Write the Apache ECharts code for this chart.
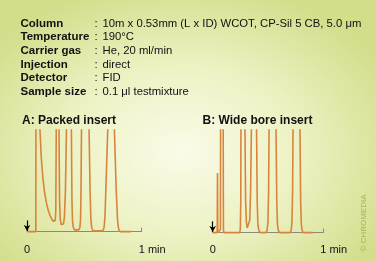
<!DOCTYPE html>
<html><head><meta charset="utf-8">
<script src="https://cdn.jsdelivr.net/npm/echarts@6/dist/echarts.min.js"></script>
<style>
html,body{margin:0;padding:0;}
#c{width:376px;height:261px;background:radial-gradient(ellipse 68% 72% at 48% 58%, #fafbe8 0%, #edf2c4 45%, #d3dd8a 92%);}
</style></head>
<body><div id="c"></div>
<script>
// Header table
const infoLabels = ['Column', 'Temperature', 'Carrier gas', 'Injection', 'Detector', 'Sample size'];
const infoValues = ['10m x 0.53mm (L x ID) WCOT, CP-Sil 5 CB, 5.0 \u03bcm', '190\u00b0C', 'He, 20 ml/min', 'direct', 'FID', '0.1 \u03bcl testmixture'];
const panelTitles = ['A: Packed insert', 'B: Wide bore insert'];
const tickLabels = ['0', '1 min'];
// Panel A chromatogram (time in min, signal in % of clipped full scale)
const timeA = [0.003,0.075,0.077,0.0785,0.100,0.113,0.125,0.139,0.154,0.170,0.185,0.200,0.215,0.228,0.238,0.246,0.251,0.255,0.256,0.278,0.279,0.284,0.290,0.298,0.308,0.318,0.326,0.335,0.344,0.347,0.385,0.387,0.392,0.397,0.404,0.415,0.450,0.461,0.467,0.471,0.475,0.476,0.540,0.541,0.550,0.557,0.564,0.575,0.660,0.672,0.680,0.690,0.704,0.706,0.760,0.762,0.778,0.790,0.800,0.812,0.907];
const signalA = [0,0,2,150,150,100,72,52,38,28,21,16,12.5,10.2,9.5,11,20,100,150,150,100,30,12,7,5.6,7.5,14,40,100,150,150,100,30,10,4,1.7,1.7,4,12,40,100,150,150,100,40,12,4,0.7,0.7,4,15,50,100,150,150,100,40,10,2,0,0];
// Panel B chromatogram
const timeB = [0,0.038,0.041,0.0435,0.046,0.049,0.066,0.070,0.072,0.094,0.097,0.101,0.245,0.250,0.254,0.257,0.290,0.292,0.298,0.305,0.312,0.319,0.327,0.335,0.343,0.350,0.352,0.395,0.397,0.403,0.409,0.418,0.430,0.480,0.492,0.500,0.506,0.510,0.512,0.570,0.573,0.580,0.586,0.594,0.606,0.700,0.710,0.717,0.723,0.727,0.729,0.788,0.790,0.796,0.802,0.810,0.820,0.907];
const signalB = [0,0,2,58,2,0,0,3,150,150,3,0,0,4,30,150,150,100,30,10,4.5,3,5,12,40,100,150,150,100,30,8,2,0,0,2,10,40,100,150,150,100,30,8,2,0,0,2,10,40,100,150,150,100,30,8,2,0,0];
// Injection arrow (from, to) in signal units
const arrowSignal = [11, 0.6];

const zip = (t, s) => t.map((v, i) => [v, s[i]]);
const TRACE = '#d8843d';
const AXIS = '#8a8a7a';
const font = 'Liberation Sans, Arial, sans-serif';

function xAx(idx) {
  return {
    gridIndex: idx, type: 'value', min: 0, max: 1, interval: 1,
    axisLine: {lineStyle: {color: AXIS, width: 1}},
    axisTick: {show: true, inside: true, length: 4, lineStyle: {color: AXIS}},
    splitLine: {show: false},
    axisLabel: {
      margin: 8, color: '#111', fontSize: 11, fontFamily: font,
      formatter: v => v === 0 ? tickLabels[0] : '{r|' + tickLabels[1] + '}',
      rich: {r: {fontSize: 11, color: '#111', fontFamily: font, padding: [0, 0, 0, 21]}}
    }
  };
}
function yAx(idx, mn) {
  return {gridIndex: idx, type: 'value', min: mn, max: 100, show: false, splitLine: {show: false}};
}
function trace(idx, data) {
  return {
    type: 'line', xAxisIndex: idx, yAxisIndex: idx, data: data, showSymbol: false, symbol: 'none',
    clip: true, silent: true, animation: false,
    lineStyle: {color: TRACE, width: 1.6},
    markLine: {
      silent: true, animation: false, symbol: ['none', 'arrow'], symbolSize: [5, 6],
      label: {show: false},
      lineStyle: {color: '#000', width: 1.2, type: 'solid'},
      data: [[{coord: [0, arrowSignal[0]]}, {coord: [0, arrowSignal[1]]}]]
    }
  };
}

const graphics = [];
infoLabels.forEach((l, i) => {
  const y = 23.5 + i * 13.7;
  graphics.push({type: 'text', x: 20.5, y: y, style: {text: l, font: 'bold 11.5px ' + font, fill: '#111', verticalAlign: 'middle'}});
  graphics.push({type: 'text', x: 94.5, y: y, style: {text: ':', font: '11.3px ' + font, fill: '#111', verticalAlign: 'middle'}});
  graphics.push({type: 'text', x: 102.5, y: y, style: {text: infoValues[i], font: '11.3px ' + font, fill: '#111', verticalAlign: 'middle'}});
});
graphics.push({type: 'text', x: 22, y: 120.5, style: {text: panelTitles[0], font: 'bold 12px ' + font, fill: '#111', verticalAlign: 'middle'}});
graphics.push({type: 'text', x: 202.5, y: 120.5, style: {text: panelTitles[1], font: 'bold 12px ' + font, fill: '#111', verticalAlign: 'middle'}});
graphics.push({type: 'text', x: 363.5, y: 223, rotation: Math.PI / 2, style: {text: '\u00a9 CHROMEDIA', font: '8px ' + font, fill: '#a5b65c', align: 'center', verticalAlign: 'middle'}});

const chart = echarts.init(document.getElementById('c'), null, {renderer: 'canvas'});
chart.setOption({
  backgroundColor: 'transparent',
  animation: false,
  grid: [
    {left: 27, width: 114.7, top: 130, height: 106.7},
    {left: 212.7, width: 110.5, top: 130, height: 106.7}
  ],
  xAxis: [xAx(0), xAx(1)],
  yAxis: [yAx(0, -5), yAx(1, -4)],
  series: [trace(0, zip(timeA, signalA)), trace(1, zip(timeB, signalB))],
  graphic: graphics
});
</script></body></html>
